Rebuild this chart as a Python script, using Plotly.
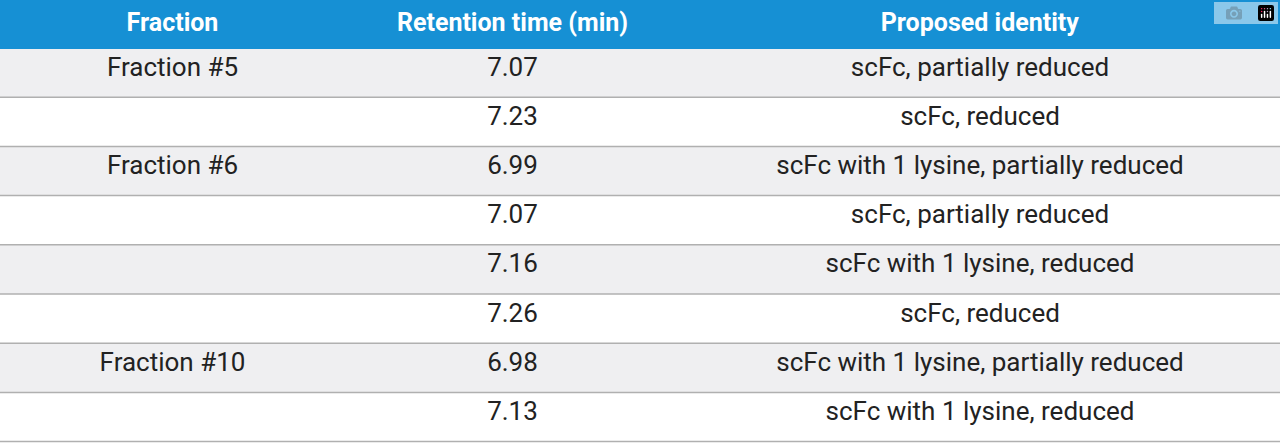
import plotly.graph_objects as go

headers = ["Fraction", "Retention time (min)", "Proposed identity"]
fractions = ["Fraction #5", "", "Fraction #6", "", "", "", "Fraction #10", ""]
retention = ["7.07", "7.23", "6.99", "7.07", "7.16", "7.26", "6.98", "7.13"]
identity = ["scFc, partially reduced", "scFc, reduced",
            "scFc with 1 lysine, partially reduced", "scFc, partially reduced",
            "scFc with 1 lysine, reduced", "scFc, reduced",
            "scFc with 1 lysine, partially reduced", "scFc with 1 lysine, reduced"]

row_fill = ["#efeff1" if i % 2 == 0 else "#ffffff" for i in range(len(retention))]

fig = go.Figure(go.Table(
    columnwidth=[345, 335, 600],
    header=dict(values=[f"<b>{h}</b>" for h in headers],
                fill_color="#1690d4", line=dict(color="#1690d4", width=1),
                font=dict(color="white", size=25, family="Roboto"),
                align="center", height=48),
    cells=dict(values=[fractions, retention, identity],
               fill_color=[row_fill] * 3,
               line=dict(color=[row_fill] * 3, width=1),
               font=dict(color="#222222", size=26, family="Roboto"),
               align="center", height=49.2),
))
fig.update_layout(width=1280, height=446, margin=dict(l=0, r=0, t=0, b=0),
                  paper_bgcolor="white")
for i in range(1, len(retention) + 1):
    y = 1 - (48 + 49.2 * i) / 446
    fig.add_shape(type="line", xref="paper", yref="paper", x0=0, x1=1, y0=y, y1=y,
                  line=dict(color="#b0b0b0", width=1.5))
fig.write_html("out.html",
               post_script="document.body.style.margin='0';document.body.style.overflow='hidden';")
